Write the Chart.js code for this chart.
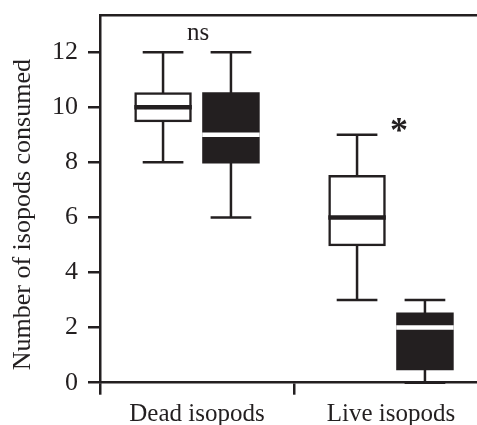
<!DOCTYPE html>
<html>
<head>
<meta charset="utf-8">
<script src="https://cdn.jsdelivr.net/npm/chart.js@4"></script>
<style>
html, body { margin: 0; padding: 0; background: #fff; overflow: hidden; }
#wrap { width: 477px; height: 425px; overflow: hidden; }
canvas { display: block; }
</style>
</head>
<body>
<div id="wrap"><canvas id="boxChart" width="488" height="440"></canvas></div>
<script>
const categories = ['Dead isopods', 'Live isopods'];

// open (white) boxes
const openMin = [8, 3];
const openQ1 = [9.5, 5];
const openMedian = [10, 6];
const openQ3 = [10.5, 7.5];
const openMax = [12, 9];

// filled (black) boxes
const filledMin = [6, 0];
const filledQ1 = [8, 0.5];
const filledMedian = [9, 2];
const filledQ3 = [10.5, 2.5];
const filledMax = [12, 3];

const yTicks = [0, 2, 4, 6, 8, 10, 12];
const yTitle = 'Number of isopods consumed';

const ink = '#231f20';
const serif = '"Liberation Serif", "Times New Roman", serif';

// whiskers under the boxes, medians + labels on top
const boxExtras = {
    id: 'boxExtras',
    beforeDatasetsDraw(chart) {
        const { ctx, scales: { y } } = chart;
        ctx.save();
        ctx.strokeStyle = ink;
        ctx.lineWidth = 2.5;
        chart.data.datasets.forEach((ds, i) => {
            chart.getDatasetMeta(i).data.forEach((bar, j) => {
                const lo = y.getPixelForValue(ds.whiskerMin[j]);
                const hi = y.getPixelForValue(ds.whiskerMax[j]);
                const cap = bar.width * 0.37;
                ctx.beginPath();
                ctx.moveTo(bar.x, lo); ctx.lineTo(bar.x, hi);
                ctx.moveTo(bar.x - cap, lo); ctx.lineTo(bar.x + cap, lo);
                ctx.moveTo(bar.x - cap, hi); ctx.lineTo(bar.x + cap, hi);
                ctx.stroke();
            });
        });
        ctx.restore();
    },
    afterDatasetsDraw(chart) {
        const { ctx, scales: { x, y } } = chart;
        ctx.save();
        chart.data.datasets.forEach((ds, i) => {
            chart.getDatasetMeta(i).data.forEach((bar, j) => {
                const m = y.getPixelForValue(ds.median[j]);
                const half = bar.width / 2 + 1.25;
                ctx.strokeStyle = ds.medianColor;
                ctx.lineWidth = 4.5;
                ctx.beginPath();
                ctx.moveTo(bar.x - half, m);
                ctx.lineTo(bar.x + half, m);
                ctx.stroke();
            });
        });

        ctx.fillStyle = ink;
        ctx.textAlign = 'center';
        ctx.textBaseline = 'alphabetic';
        ctx.font = '25px ' + serif;
        ctx.fillText('ns', x.getPixelForValue(0) + 1, y.getPixelForValue(12.45));
        ctx.font = 'bold 36px ' + serif;
        ctx.fillText('*', x.getPixelForValue(1) + 8, y.getPixelForValue(8.75));

        // y axis title
        ctx.font = '26px ' + serif;
        ctx.textBaseline = 'middle';
        ctx.translate(23, y.getPixelForValue(6.1));
        ctx.rotate(-Math.PI / 2);
        ctx.fillText(yTitle, 0, 0);
        ctx.restore();
    }
};

const ctx = document.getElementById('boxChart');

new Chart(ctx, {
    type: 'bar',
    data: {
        labels: categories,
        datasets: [{
            label: 'open',
            data: openQ1.map((v, i) => [v, openQ3[i]]),
            median: openMedian,
            whiskerMin: openMin,
            whiskerMax: openMax,
            medianColor: ink,
            backgroundColor: '#ffffff',
            borderColor: ink,
            borderWidth: 2.5,
            borderSkipped: false,
            inflateAmount: 1.25
        }, {
            label: 'filled',
            data: filledQ1.map((v, i) => [v, filledQ3[i]]),
            median: filledMedian,
            whiskerMin: filledMin,
            whiskerMax: filledMax,
            medianColor: '#ffffff',
            backgroundColor: ink,
            borderWidth: 0,
            borderSkipped: false,
            inflateAmount: 1.25
        }]
    },
    options: {
        responsive: false,
        animation: false,
        devicePixelRatio: 1,
        categoryPercentage: 0.7,
        barPercentage: 0.81,
        layout: { padding: { top: 15, left: 0, right: 0, bottom: 0 } },
        plugins: {
            legend: { display: false },
            tooltip: { enabled: false }
        },
        scales: {
            x: {
                offset: true,
                grid: {
                    offset: true,
                    drawOnChartArea: false,
                    drawTicks: true,
                    tickLength: 12,
                    tickWidth: 2.5,
                    tickColor: ink,
                    color: ink,
                    lineWidth: 2.5
                },
                border: { color: ink, width: 2.5 },
                ticks: {
                    color: ink,
                    font: { family: serif, size: 25 },
                    padding: 5,
                    maxRotation: 0
                },
                afterFit(scale) {
                    scale.height = 57.3;
                    scale.paddingLeft = 0;
                    scale.paddingRight = 0;
                }
            },
            x2: {
                type: 'category',
                position: 'top',
                display: true,
                grid: { display: false },
                ticks: { display: false },
                border: { display: true, color: ink, width: 2.5 },
                afterFit(scale) { scale.height = 0; }
            },
            y: {
                min: 0,
                max: 13.35,
                afterBuildTicks(scale) { scale.ticks = yTicks.map(v => ({ value: v })); },
                grid: {
                    drawOnChartArea: false,
                    drawTicks: true,
                    tickLength: 12,
                    tickWidth: 2.5,
                    tickColor: ink,
                    color: ink,
                    lineWidth: 2.5
                },
                border: { color: ink, width: 2.5 },
                ticks: {
                    color: ink,
                    font: { family: serif, size: 26 },
                    padding: 10
                },
                afterFit(scale) {
                    scale.width = 100;
                    scale.paddingTop = 0;
                    scale.paddingBottom = 0;
                }
            }
        }
    },
    plugins: [boxExtras]
});
</script>
</body>
</html>
